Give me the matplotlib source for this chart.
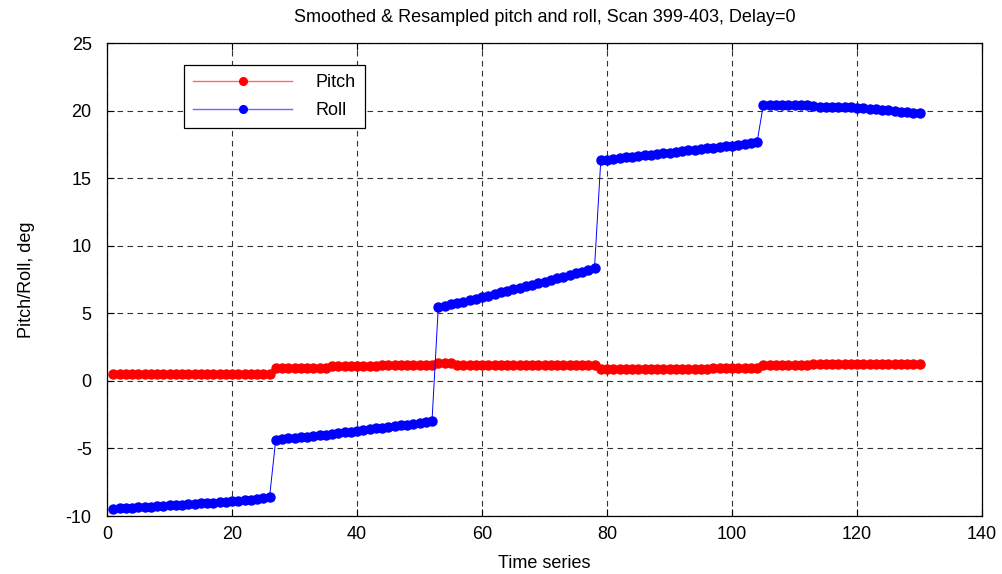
import numpy as np
import matplotlib
matplotlib.use("Agg")
import matplotlib.pyplot as plt

# Sample index (5 scans x 26 resampled points)
sample = list(range(1, 131))

pitch = [
    # scan 399
    0.52, 0.52, 0.52, 0.52, 0.52, 0.52, 0.52, 0.52, 0.52, 0.52, 0.52, 0.52, 0.52,
    0.52, 0.52, 0.52, 0.52, 0.52, 0.52, 0.52, 0.52, 0.52, 0.52, 0.52, 0.52, 0.52,
    # scan 400
    0.95, 0.95, 0.95, 0.95, 0.95, 0.95, 0.95, 0.95, 0.95,
    1.07, 1.07, 1.07, 1.07, 1.07, 1.07, 1.07, 1.07,
    1.17, 1.17, 1.17, 1.17, 1.17, 1.17, 1.17, 1.17, 1.17,
    # scan 401
    1.30, 1.32, 1.30,
    1.19, 1.19, 1.18, 1.18, 1.18, 1.18, 1.18, 1.18, 1.17, 1.17, 1.17, 1.17,
    1.17, 1.17, 1.16, 1.16, 1.16, 1.16, 1.16, 1.15, 1.15, 1.15, 1.15,
    # scan 402
    0.85, 0.85, 0.85, 0.85, 0.85, 0.85, 0.85, 0.85, 0.85, 0.85, 0.85, 0.85,
    0.85, 0.85, 0.85, 0.85, 0.85, 0.85,
    0.97, 0.97, 0.97, 0.97, 0.97, 0.97, 0.97, 0.97,
    # scan 403
    1.18, 1.18, 1.18, 1.18, 1.18, 1.18, 1.18, 1.18,
    1.28, 1.28, 1.28, 1.28, 1.28, 1.28, 1.28, 1.28, 1.28, 1.28, 1.28, 1.28,
    1.28, 1.28, 1.28, 1.28, 1.28, 1.28,
]

roll = [
    # scan 399
    -9.45, -9.43, -9.42, -9.38, -9.36, -9.33, -9.30, -9.28, -9.24, -9.22, -9.20,
    -9.16, -9.13, -9.10, -9.07, -9.04, -9.02, -8.98, -8.95, -8.92, -8.88, -8.85,
    -8.80, -8.74, -8.68, -8.60,
    # scan 400
    -4.35, -4.30, -4.26, -4.22, -4.17, -4.12, -4.07, -4.03, -3.98, -3.92, -3.86,
    -3.80, -3.75, -3.70, -3.64, -3.58, -3.52, -3.47, -3.41, -3.35, -3.29, -3.23,
    -3.16, -3.09, -3.02, -2.95,
    # scan 401
    5.45, 5.55, 5.66, 5.76, 5.87, 5.98, 6.09, 6.20, 6.31, 6.43, 6.55, 6.67, 6.79,
    6.90, 7.01, 7.12, 7.24, 7.35, 7.47, 7.59, 7.71, 7.83, 7.96, 8.09, 8.22, 8.38,
    # scan 402
    16.32, 16.38, 16.44, 16.50, 16.55, 16.60, 16.65, 16.70, 16.75, 16.80, 16.85,
    16.90, 16.95, 17.00, 17.05, 17.10, 17.15, 17.20, 17.25, 17.30, 17.35, 17.40,
    17.46, 17.52, 17.58, 17.65,
    # scan 403
    20.40, 20.41, 20.41, 20.40, 20.40, 20.40, 20.39, 20.38, 20.35,
    20.28, 20.26, 20.25, 20.25, 20.24, 20.24, 20.23, 20.20,
    20.14, 20.10, 20.08, 20.05, 19.96, 19.93, 19.90, 19.85, 19.80,
]

x_ticks = [0, 20, 40, 60, 80, 100, 120, 140]
y_ticks = [-10, -5, 0, 5, 10, 15, 20, 25]

plt.rcParams["font.family"] = ["Liberation Sans", "DejaVu Sans"]
plt.rcParams["axes.unicode_minus"] = False

fig = plt.figure(figsize=(10.03, 5.74), dpi=100)
ax = fig.add_axes([0.1067, 0.101, 0.8724, 0.824])

ax.plot(sample, pitch, "-o", color="#ff0000", lw=0.7, ms=6.5, label="Pitch")
ax.plot(sample, roll, "-o", color="#0000ff", lw=0.7, ms=6.5, label="Roll")

ax.set_xlim(0, 140)
ax.set_ylim(-10, 25)
ax.set_xticks(x_ticks)
ax.set_yticks(y_ticks)
ax.tick_params(direction="in", length=5, width=0.8, top=True, right=True,
               labelsize=13)
ax.tick_params(axis="y", pad=11)
ax.tick_params(axis="x", pad=7)
ax.grid(True, color="#333333", linestyle=(0, (5, 4)), linewidth=0.8)
for s in ax.spines.values():
    s.set_linewidth(0.9)

ax.set_title("Smoothed & Resampled pitch and roll, Scan 399-403, Delay=0",
             fontsize=13, pad=15)
ax.set_xlabel("Time series", fontsize=13, labelpad=9)
ax.set_ylabel("Pitch/Roll, deg", fontsize=13, labelpad=22)

leg = ax.legend(loc="upper left", bbox_to_anchor=(0.088, 0.953), fontsize=13,
                numpoints=1, handlelength=5.5, fancybox=False, framealpha=1,
                borderpad=0.5, labelspacing=0.6, handletextpad=1.3,
                borderaxespad=0)
leg.get_frame().set_edgecolor("black")
leg.get_frame().set_linewidth(0.9)
for h, light, solid in zip(leg.legend_handles,
                           ["#ff6a6a", "#6a6aff"], ["#ff0000", "#0000ff"]):
    h.set_color(light)
    h.set_linewidth(1.0)
    h.set_markerfacecolor(solid)
    h.set_markeredgecolor(solid)
    h.set_markersize(5.5)

fig.savefig("out.png", dpi=100)
